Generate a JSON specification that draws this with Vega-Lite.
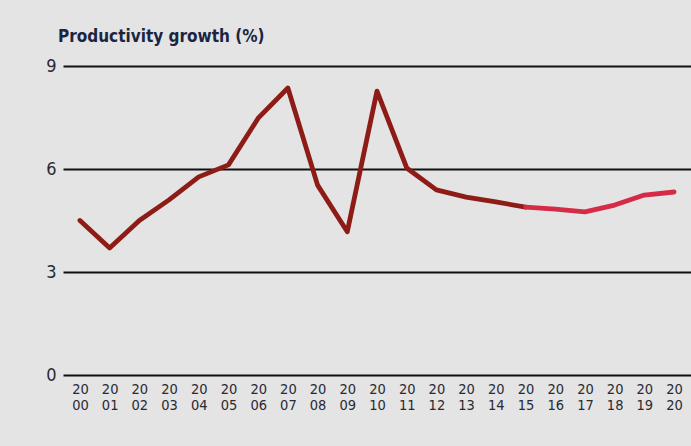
{
  "$schema": "https://vega.github.io/schema/vega-lite/v6.json",
  "width": 628,
  "height": 309,
  "autosize": {"type": "none"},
  "padding": {"left": 63, "top": 66, "right": 0, "bottom": 71},
  "background": "#e3e4e3",
  "config": {"view": {"stroke": null}, "font": "DejaVu Sans Condensed"},
  "title": {
    "text": "Productivity growth (%)",
    "anchor": "start",
    "frame": "group",
    "dx": -5,
    "dy": 23,
    "offset": 21,
    "baseline": "alphabetic",
    "font": "DejaVu Sans Condensed",
    "fontSize": 17,
    "fontWeight": "bold",
    "color": "#1b2542"
  },
  "data": {
    "values": [
      {"year": "2000", "value": 4.5, "series": "actual"},
      {"year": "2001", "value": 3.7, "series": "actual"},
      {"year": "2002", "value": 4.5, "series": "actual"},
      {"year": "2003", "value": 5.1, "series": "actual"},
      {"year": "2004", "value": 5.77, "series": "actual"},
      {"year": "2005", "value": 6.12, "series": "actual"},
      {"year": "2006", "value": 7.48, "series": "actual"},
      {"year": "2007", "value": 8.36, "series": "actual"},
      {"year": "2008", "value": 5.53, "series": "actual"},
      {"year": "2009", "value": 4.17, "series": "actual"},
      {"year": "2010", "value": 8.27, "series": "actual"},
      {"year": "2011", "value": 6.03, "series": "actual"},
      {"year": "2012", "value": 5.39, "series": "actual"},
      {"year": "2013", "value": 5.18, "series": "actual"},
      {"year": "2014", "value": 5.04, "series": "actual"},
      {"year": "2015", "value": 4.89, "series": "actual"},
      {"year": "2015", "value": 4.89, "series": "forecast"},
      {"year": "2016", "value": 4.83, "series": "forecast"},
      {"year": "2017", "value": 4.75, "series": "forecast"},
      {"year": "2018", "value": 4.95, "series": "forecast"},
      {"year": "2019", "value": 5.24, "series": "forecast"},
      {"year": "2020", "value": 5.33, "series": "forecast"}
    ]
  },
  "mark": {"type": "line", "strokeWidth": 4.8, "strokeJoin": "round", "strokeCap": "round"},
  "encoding": {
    "x": {
      "field": "year",
      "type": "ordinal",
      "scale": {"type": "point", "padding": 0.57},
      "axis": {
        "title": null,
        "domain": false,
        "ticks": false,
        "labelAngle": 0,
        "labelPadding": 7,
        "labelFontSize": 14.5,
        "labelLineHeight": 16,
        "labelColor": "#2a2a33",
        "labelExpr": "[substring(datum.label,0,2), substring(datum.label,2,4)]"
      }
    },
    "y": {
      "field": "value",
      "type": "quantitative",
      "scale": {"domain": [0, 9]},
      "axis": {
        "title": null,
        "values": [0, 3, 6, 9],
        "domain": false,
        "ticks": false,
        "grid": true,
        "gridColor": "#111111",
        "gridWidth": 2,
        "gridOpacity": 1,
        "labelPadding": 7,
        "labelFontSize": 18,
        "labelColor": "#2a2a33"
      }
    },
    "color": {
      "field": "series",
      "type": "nominal",
      "scale": {"domain": ["actual", "forecast"], "range": ["#8e1c16", "#d62b47"]},
      "legend": null
    }
  }
}
